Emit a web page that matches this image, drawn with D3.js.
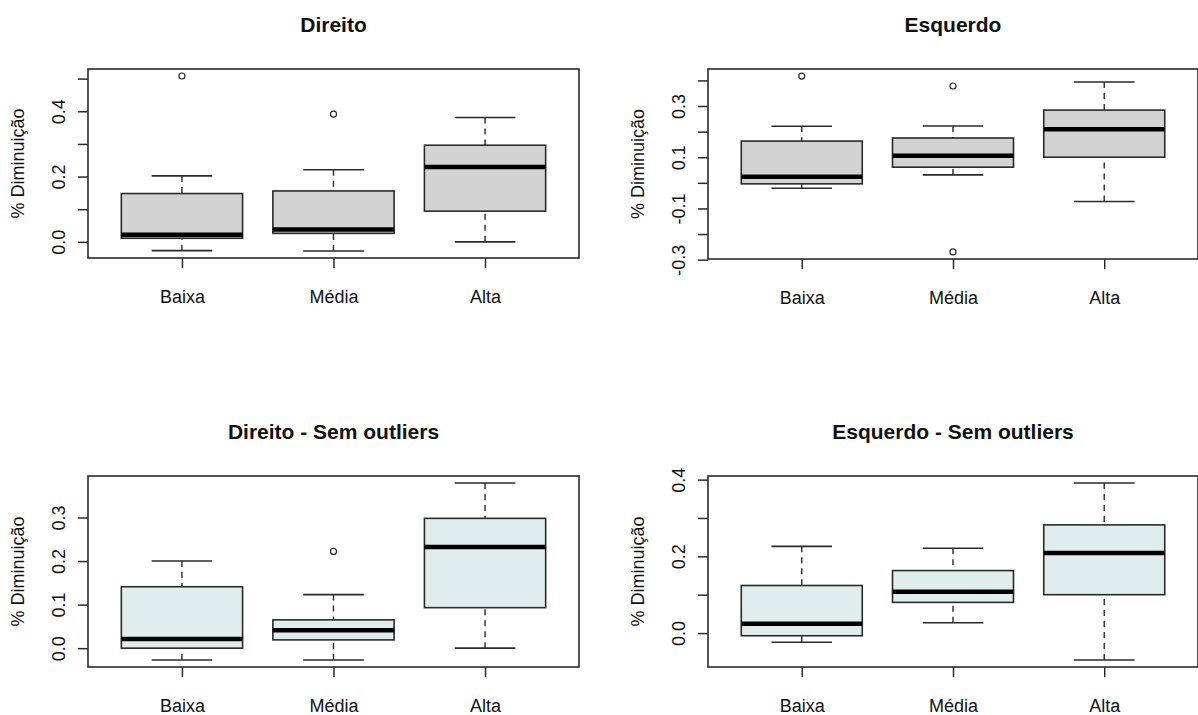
<!DOCTYPE html>
<html>
<head>
<meta charset="utf-8">
<script src="https://cdn.jsdelivr.net/npm/d3@7"></script>
<style>
  body { margin: 0; background: #fff; }
  svg { display: block; }
  text { font-family: "Liberation Sans", Arial, sans-serif; fill: #111; }
</style>
</head>
<body>
<svg id="chart" width="1198" height="715"></svg>
<script>
// Groups on the x axis
const categories = ["Baixa", "Média", "Alta"];

// Five-number summaries per group: [lower whisker, Q1, median, Q3, upper whisker]
const direitoStats = [
  [-0.027, 0.011, 0.022, 0.148, 0.202],
  [-0.028, 0.026, 0.038, 0.156, 0.221],
  [ 0.000, 0.094, 0.229, 0.296, 0.381]
];
const direitoOutliers = [[0.508], [0.391], []];

const esquerdoStats = [
  [-0.021, -0.004, 0.024, 0.163, 0.221],
  [ 0.031,  0.061, 0.106, 0.175, 0.222],
  [-0.073,  0.100, 0.209, 0.284, 0.394]
];
const esquerdoOutliers = [[0.417], [0.378, -0.270], []];

const direitoSemStats = [
  [-0.027, 0.000, 0.021, 0.141, 0.200],
  [-0.027, 0.019, 0.041, 0.065, 0.123],
  [ 0.000, 0.093, 0.232, 0.298, 0.379]
];
const direitoSemOutliers = [[], [0.222], []];

const esquerdoSemStats = [
  [-0.024, -0.007, 0.024, 0.124, 0.226],
  [ 0.027,  0.080, 0.108, 0.163, 0.221],
  [-0.070,  0.100, 0.209, 0.282, 0.391]
];
const esquerdoSemOutliers = [[], [], []];

// Y axis ticks and their printed labels (empty string = tick without label)
const direitoTicks = [0, 0.1, 0.2, 0.3, 0.4, 0.5];
const direitoTickLabels = ["0.0", "", "0.2", "", "0.4", ""];
const esquerdoTicks = [-0.3, -0.2, -0.1, 0, 0.1, 0.2, 0.3, 0.4];
const esquerdoTickLabels = ["-0.3", "", "-0.1", "", "0.1", "", "0.3", ""];
const direitoSemTicks = [0, 0.1, 0.2, 0.3];
const direitoSemTickLabels = ["0.0", "0.1", "0.2", "0.3"];
const esquerdoSemTicks = [0, 0.1, 0.2, 0.3, 0.4];
const esquerdoSemTickLabels = ["0.0", "", "0.2", "", "0.4"];

const yTitle = "% Diminuição";

const svg = d3.select("#chart");

const panels = [
  { title: "Direito", stats: direitoStats, outliers: direitoOutliers,
    ticks: direitoTicks, labels: direitoTickLabels, fill: "#d3d3d3",
    x0: 88, x1: 579, y0: 69, y1: 258 },
  { title: "Esquerdo", stats: esquerdoStats, outliers: esquerdoOutliers,
    ticks: esquerdoTicks, labels: esquerdoTickLabels, fill: "#d3d3d3",
    x0: 708, x1: 1198, y0: 69, y1: 259 },
  { title: "Direito - Sem outliers", stats: direitoSemStats, outliers: direitoSemOutliers,
    ticks: direitoSemTicks, labels: direitoSemTickLabels, fill: "#e0eded",
    x0: 88, x1: 579, y0: 476, y1: 667 },
  { title: "Esquerdo - Sem outliers", stats: esquerdoSemStats, outliers: esquerdoSemOutliers,
    ticks: esquerdoSemTicks, labels: esquerdoSemTickLabels, fill: "#e0eded",
    x0: 708, x1: 1198, y0: 476, y1: 667 }
];

const ink = "#2a2a2a";

panels.forEach(p => {
  const g = svg.append("g");

  const x = d3.scalePoint().domain(categories).range([p.x0, p.x1]).padding(0.62);
  const bw = x.step() * 0.8;

  // y range covers whiskers and outliers, extended 4% on each side
  const all = p.stats.flat().concat(p.outliers.flat());
  const lo = d3.min(all), hi = d3.max(all);
  const ext = (hi - lo) * 0.04;
  const y = d3.scaleLinear().domain([lo - ext, hi + ext]).range([p.y1, p.y0]);

  // Y axis
  const yAxis = g.append("g")
    .attr("transform", `translate(${p.x0},0)`)
    .call(d3.axisLeft(y).tickValues(p.ticks).tickSize(10).tickFormat((d, i) => p.labels[i]));
  yAxis.select(".domain").remove();
  yAxis.selectAll(".tick line").attr("stroke", ink).attr("stroke-width", 1.5);
  yAxis.selectAll(".tick text")
    .attr("x", null).attr("dy", null)
    .attr("text-anchor", "middle")
    .attr("transform", "translate(-23,0) rotate(-90)")
    .style("font-size", "18px")
    .style("font-family", "'Liberation Sans', Arial, sans-serif")
    .attr("fill", "#111");

  // X axis
  const xAxis = g.append("g")
    .attr("transform", `translate(0,${p.y1})`)
    .call(d3.axisBottom(x).tickSize(10));
  xAxis.select(".domain").remove();
  xAxis.selectAll(".tick line").attr("stroke", ink).attr("stroke-width", 1.5);
  xAxis.selectAll(".tick text")
    .attr("y", 45).attr("dy", null)
    .style("font-size", "18px")
    .style("font-family", "'Liberation Sans', Arial, sans-serif")
    .attr("fill", "#111");

  // Boxes
  const box = g.selectAll("g.box")
    .data(p.stats.map((s, i) => ({ cat: categories[i], s, out: p.outliers[i] })))
    .join("g").attr("class", "box");

  // dashed whiskers, drawn from the extreme toward the box
  box.append("line")
    .attr("x1", d => x(d.cat)).attr("x2", d => x(d.cat))
    .attr("y1", d => y(d.s[0])).attr("y2", d => y(d.s[1]))
    .attr("stroke", ink).attr("stroke-width", 1.4).attr("stroke-dasharray", "6,5");
  box.append("line")
    .attr("x1", d => x(d.cat)).attr("x2", d => x(d.cat))
    .attr("y1", d => y(d.s[4])).attr("y2", d => y(d.s[3]))
    .attr("stroke", ink).attr("stroke-width", 1.4).attr("stroke-dasharray", "6,5");

  // staples
  [0, 4].forEach(k => {
    box.append("line")
      .attr("x1", d => x(d.cat) - bw / 4).attr("x2", d => x(d.cat) + bw / 4)
      .attr("y1", d => y(d.s[k])).attr("y2", d => y(d.s[k]))
      .attr("stroke", ink).attr("stroke-width", 1.6);
  });

  box.append("rect")
    .attr("x", d => x(d.cat) - bw / 2)
    .attr("width", bw)
    .attr("y", d => y(d.s[3]))
    .attr("height", d => y(d.s[1]) - y(d.s[3]))
    .attr("fill", p.fill)
    .attr("stroke", ink).attr("stroke-width", 1.6);

  box.append("line")
    .attr("x1", d => x(d.cat) - bw / 2).attr("x2", d => x(d.cat) + bw / 2)
    .attr("y1", d => y(d.s[2])).attr("y2", d => y(d.s[2]))
    .attr("stroke", "#000").attr("stroke-width", 4.5);

  // outliers
  box.selectAll("circle")
    .data(d => d.out.map(v => ({ cat: d.cat, v })))
    .join("circle")
    .attr("cx", d => x(d.cat)).attr("cy", d => y(d.v))
    .attr("r", 3)
    .attr("fill", "none").attr("stroke", ink).attr("stroke-width", 1.2);

  // plot frame
  g.append("rect")
    .attr("x", p.x0).attr("y", p.y0)
    .attr("width", p.x1 - p.x0).attr("height", p.y1 - p.y0)
    .attr("fill", "none").attr("stroke", ink).attr("stroke-width", 1.6);

  // title
  g.append("text")
    .attr("x", (p.x0 + p.x1) / 2).attr("y", p.y0 - 37)
    .attr("text-anchor", "middle")
    .style("font-size", "21px").style("font-weight", "bold")
    .text(p.title);

  // y axis title
  g.append("text")
    .attr("transform", `translate(${p.x0 - 64},${(p.y0 + p.y1) / 2}) rotate(-90)`)
    .attr("text-anchor", "middle")
    .style("font-size", "18px")
    .text(yTitle);
});
</script>
</body>
</html>
